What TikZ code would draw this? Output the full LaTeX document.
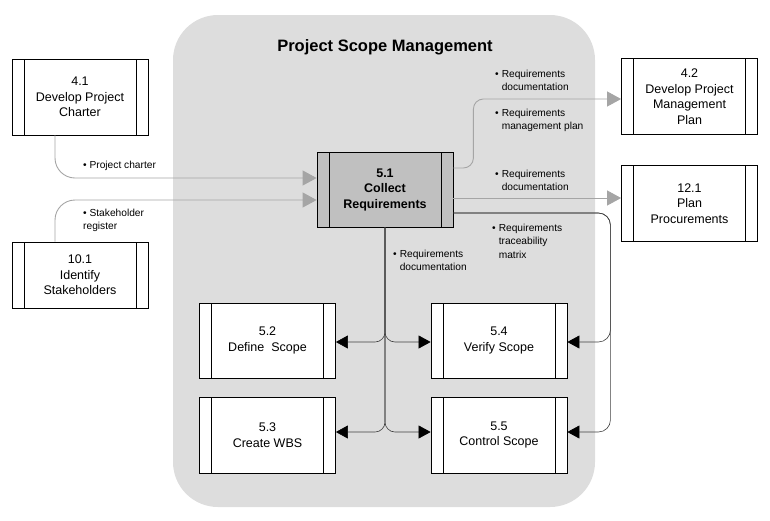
\documentclass[tikz,border=0pt]{standalone}
\usepackage{fontspec}
\setmainfont{Liberation Sans}
\usepackage{tikz}
\usetikzlibrary{arrows.meta}

\definecolor{panelgray}{RGB}{221,221,221}
\definecolor{linegray}{RGB}{165,165,165}
\definecolor{boxgray}{RGB}{192,192,192}

% bullet item with hanging indent
\newcommand{\itm}[2]{\begin{tabular}[t]{@{}l@{\hspace{3pt}}l@{}}\textbullet&#1\\&#2\end{tabular}}

\tikzset{
  proc/.style={draw, line width=0.8pt, fill=white, inner sep=0pt,
    minimum width=136pt, minimum height=76pt, align=center,
    font=\fontsize{12.5}{15.5}\selectfont,
    path picture={\draw[line width=0.8pt]
      ([xshift=12pt]path picture bounding box.north west) -- ([xshift=12pt]path picture bounding box.south west)
      ([xshift=-12pt]path picture bounding box.north east) -- ([xshift=-12pt]path picture bounding box.south east);}},
  lbl/.style={anchor=base west, inner sep=0pt, font=\fontsize{10.2}{13.5}\selectfont},
  gryarrow/.style={draw=linegray, line width=0.9pt,
    -{Triangle[length=14pt,width=15pt,color=linegray]}},
  blkarrow/.style={draw=black!75, line width=0.6pt,
    -{Triangle[length=12pt,width=13pt,color=black]}}
}

\begin{document}
\begin{tikzpicture}[x=1pt,y=-1pt]
\useasboundingbox (0,0) rectangle (770,520);
\fill[panelgray, rounded corners=45pt] (173,15) rectangle (595,507);
\node[font=\fontsize{16.5}{19}\selectfont\bfseries] (title) at (385,47) {Project Scope Management};

% processes
\node[proc] (d41) at (80,97) {4.1\\Develop Project\\Charter};
\node[proc, minimum height=66pt] (d101) at (80,275) {10.1\\Identify\\Stakeholders};
\node[proc, fill=boxgray, minimum height=75pt, font=\fontsize{12.5}{15.5}\selectfont\bfseries] (c51) at (385,189.5) {5.1\\Collect\\Requirements};
\node[proc] (d42) at (689.5,96.5) {4.2\\Develop Project\\Management\\Plan};
\node[proc] (d121) at (689.5,203.5) {12.1\\Plan\\Procurements};
\node[proc, minimum height=75pt] (d52) at (267.5,340.5) {5.2\\Define\ \ Scope};
\node[proc, minimum height=75pt] (d54) at (499,340.5) {5.4\\Verify Scope};
\node[proc] (d53) at (267.5,435) {5.3\\Create WBS};
\node[proc] (d55) at (499,435) {5.5\\Control Scope};

% inputs
\draw[gryarrow, rounded corners=20pt] ([xshift=-25pt]d41.south) |- ([yshift=11.5pt]c51.west);
\draw[gryarrow, rounded corners=20pt] ([xshift=-25pt]d101.north) |- ([yshift=-10.5pt]c51.west);
% outputs
\draw[gryarrow, rounded corners=10pt] ([yshift=21.5pt]c51.east) -- ++(20,0) |- ([yshift=-2.5pt]d42.west);
\draw[gryarrow] ([yshift=-8.5pt]c51.east) -- ([yshift=-8.5pt]c51.east -| d121.west);
\draw[blkarrow, rounded corners=12pt] ([yshift=-23.5pt]c51.east) -| ([xshift=43pt,yshift=-1.5pt]d54.east) -- ([yshift=-1.5pt]d54.east);
\draw[blkarrow, rounded corners=12pt] ([yshift=-23.5pt]c51.east) -| ([xshift=43pt,yshift=3pt]d55.east) -- ([yshift=3pt]d55.east);
\draw[blkarrow, rounded corners=10pt] (c51.south) |- ([yshift=-1.5pt]d52.east);
\draw[blkarrow, rounded corners=10pt] (c51.south) |- ([yshift=-1.5pt]d54.west);
\draw[blkarrow, rounded corners=10pt] (c51.south) |- ([yshift=3pt]d53.east);
\draw[blkarrow, rounded corners=10pt] (c51.south) |- ([yshift=3pt]d55.west);

% labels
\node[lbl] (l1) at (83,168) {\textbullet\ Project charter};
\node[lbl] (l2) at (83,216) {\begin{tabular}[t]{@{}l@{}}\textbullet\ Stakeholder\\register\end{tabular}};
\node[lbl] (l3) at (495,77) {\itm{Requirements}{documentation}};
\node[lbl] (l4) at (495,116) {\itm{Requirements}{management plan}};
\node[lbl] (l5) at (495,177) {\itm{Requirements}{documentation}};
\node[lbl] (l6) at (492,231) {\itm{Requirements}{traceability\\&matrix}};
\node[lbl] (l7) at (393,257) {\itm{Requirements}{documentation}};
\end{tikzpicture}
\end{document}
